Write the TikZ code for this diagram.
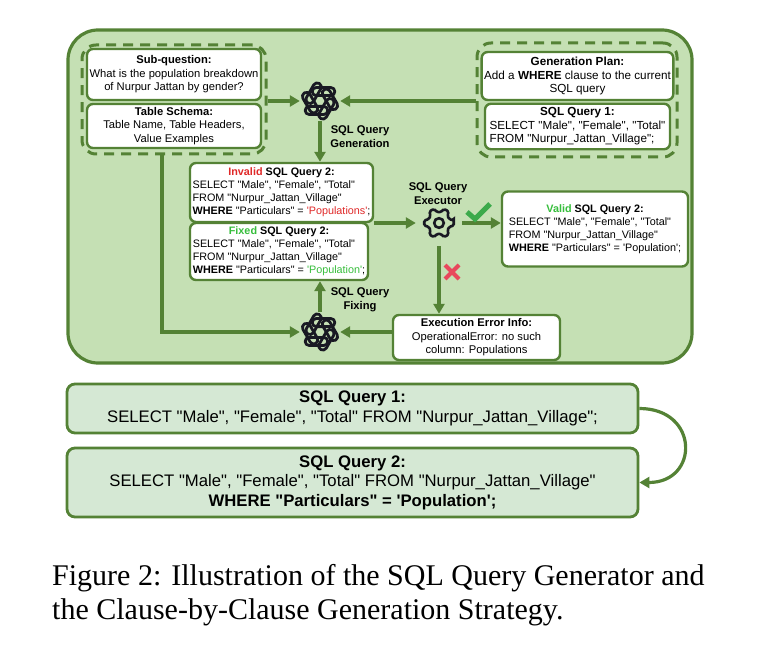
\documentclass[tikz,border=0pt]{standalone}
\usepackage{fontspec}
\setmainfont{Liberation Sans}[Ligatures=TeXOff]
\newfontfamily\capfont{Liberation Serif}
\usetikzlibrary{arrows.meta,calc}
\definecolor{dkgreen}{RGB}{84,130,53}
\definecolor{panelgreen}{RGB}{197,224,180}
\definecolor{qgreen}{RGB}{213,232,212}
\definecolor{errred}{RGB}{224,40,40}
\definecolor{okgreen}{RGB}{55,190,60}
\definecolor{markgreen}{RGB}{60,170,75}
\definecolor{markred}{RGB}{232,72,92}
\definecolor{iconcol}{RGB}{25,25,35}
\def\sq{\textquotesingle}
\def\boxfont{\fontsize{11.2}{13.5}\selectfont}
\def\planfont{\fontsize{11.7}{13.5}\selectfont}
\def\codefont{\fontsize{10.8}{13}\selectfont}
\def\bigqfont{\fontsize{16.7}{19.5}\selectfont}
\def\gptlogo(#1,#2,#3){
  \node[minimum size=40pt, inner sep=0pt] (#3) at (#1,#2) {};
  \foreach \k in {0,60,...,300}
    \draw[logoline, shift={(#1,#2)}, scale=1.08, rotate=\k] (-10,5) -- (3.5,5) arc (-90:90:3.75) -- (-10,12.5) arc (90:270:3.75) -- cycle;
}
\def\gearicon(#1,#2,#3){
  \node[minimum size=46pt, inner sep=0pt] (#3) at (#1,#2) {};
  \draw[gearline, shift={(#1,#2)}] (-10:15) \foreach \a in {0,60,...,300} { -- ({\a+10}:15) -- ({\a+20}:11) -- ({\a+40}:11) -- ({\a+50}:15) } -- cycle;
  \draw[gearline, shift={(#1,#2)}] (0,0) circle (4.8);
}
\begin{document}
\begin{tikzpicture}[x=1pt, y=-1pt,
  panel/.style={draw=dkgreen, line width=3.2pt, fill=panelgreen, rounded corners=30pt, inner sep=0pt},
  grp/.style={draw=dkgreen, line width=3pt, dash pattern=on 10pt off 7pt, rounded corners=14pt, inner sep=0pt},
  wbox/.style={draw=dkgreen, line width=2.4pt, fill=white, rounded corners=6pt, inner sep=2.5pt, align=center, font=\boxfont},
  qbox/.style={draw=dkgreen, line width=2.8pt, fill=qgreen, rounded corners=8pt, inner sep=3pt, align=center, font=\bigqfont, minimum width=571pt},
  arr/.style={draw=dkgreen, line width=3.2pt, -{Triangle[length=10pt,width=11pt]}},
  lbl/.style={font=\bfseries\fontsize{11.2}{14}\selectfont, align=center, inner sep=0pt},
  logoline/.style={draw=iconcol, line width=2.8pt, line join=round},
  gearline/.style={draw=iconcol, line width=2.6pt, rounded corners=1.5pt},
  okmark/.style={draw=markgreen, line width=5pt},
  badmark/.style={draw=markred, line width=4pt}]
\fill[white] (0,0) rectangle (760,660);
\useasboundingbox (0,0) rectangle (760,660);
\node[panel, minimum width=624pt, minimum height=333pt] (panel) at (380,196.5) {};
\node[grp, minimum width=184pt, minimum height=109pt] (lgroup) at (174,99.5) {};
\node[grp, minimum width=200pt, minimum height=114pt] (rgroup) at (577,100) {};
\node[wbox, minimum width=174pt, minimum height=51pt] (subq) at (174,74.5) {\textbf{Sub-question:}\\What is the population breakdown\\of Nurpur Jattan by gender?};
\node[wbox, minimum width=174pt, minimum height=44pt] (schema) at (174,126) {\textbf{Table Schema:}\\Table Name, Table Headers,\\Value Examples};
\node[wbox, font=\planfont, minimum width=185pt, minimum height=48pt] (plan) at (577.5,76) {\textbf{Generation Plan:}\\Add a \textbf{WHERE} clause to the current\\SQL query};
\node[wbox, font=\planfont, minimum width=185pt, minimum height=43pt] (sqlone) at (577.5,126.5) {\begin{tabular}{@{}l@{}}\multicolumn{1}{@{}c@{}}{\textbf{SQL Query 1:}}\\SELECT "Male", "Female", "Total"\\FROM "Nurpur\_Jattan\_Village";\end{tabular}};
\gptlogo(320,101,gen)
\node[lbl] (genlbl) at (360,137) {SQL Query\\Generation};
\node[wbox, font=\codefont, minimum width=183pt, minimum height=59pt] (invalid) at (281.5,192.5) {\begin{tabular}{@{}l@{}}\multicolumn{1}{@{}c@{}}{\textbf{\textcolor{errred}{Invalid} SQL Query 2:}}\\SELECT "Male", "Female", "Total"\\FROM "Nurpur\_Jattan\_Village"\\\textbf{WHERE} "Particulars" = \textcolor{errred}{\sq Populations\sq};\end{tabular}};
\node[wbox, font=\codefont, minimum width=178pt, minimum height=53pt] (fixed) at (279,251.5) {\begin{tabular}{@{}l@{}}\multicolumn{1}{@{}c@{}}{\textbf{\textcolor{okgreen}{Fixed} SQL Query 2:}}\\SELECT "Male", "Female", "Total"\\FROM "Nurpur\_Jattan\_Village"\\\textbf{WHERE} "Particulars" = \textcolor{okgreen}{\sq Population\sq};\end{tabular}};
\gearicon(439,223,exec)
\node[lbl] (execlbl) at (438,194) {SQL Query\\Executor};
\node[wbox, font=\codefont, minimum width=186pt, minimum height=75pt] (valid) at (595,229) {\begin{tabular}{@{}l@{}}\multicolumn{1}{@{}c@{}}{\textbf{\textcolor{okgreen}{Valid} SQL Query 2:}}\\SELECT "Male", "Female", "Total"\\FROM "Nurpur\_Jattan\_Village"\\\textbf{WHERE} "Particulars" = \sq Population\sq;\end{tabular}};
\node[wbox, minimum width=167pt, minimum height=45pt] (err) at (476.5,337.5) {\textbf{Execution Error Info:}\\OperationalError: no such\\column: Populations};
\gptlogo(320,332,fix)
\node[lbl] (fixlbl) at (360,300) {SQL Query\\Fixing};
\draw[arr] (lgroup.east |- gen) -- (gen.west);
\draw[arr] (rgroup.west |- gen) -- (gen.east);
\draw[arr] (gen.south) -- (gen |- invalid.north);
\draw[arr] (invalid.south east |- exec) -- (exec.west);
\draw[arr] (exec.east) -- (exec -| valid.west);
\draw[arr] (exec.south) -- (exec |- err.north);
\draw[arr] (err.west |- fix) -- (fix.east);
\draw[arr] ([xshift=-12pt]lgroup.south) |- (fix.west);
\draw[arr] (fix.north) -- (fix |- fixed.south);
\draw[okmark] (467,212) -- (475,219) -- (490,204);
\draw[badmark] (445,265) -- (459,279) (459,265) -- (445,279);
\node[qbox, minimum height=49pt] (qone) at (352.5,408.5) {\textbf{SQL Query 1:}\\SELECT "Male", "Female", "Total" FROM "Nurpur\_Jattan\_Village";};
\node[qbox, minimum height=69pt] (qtwo) at (352.5,482.5) {\textbf{SQL Query 2:}\\SELECT "Male", "Female", "Total" FROM "Nurpur\_Jattan\_Village"\\\textbf{WHERE "Particulars" = \sq Population\sq;}};
\draw[arr] (qone.east) .. controls +(60,0) and +(60,0) .. (qtwo.east);
\node[anchor=base west, inner sep=0pt, font=\capfont\fontsize{30}{34}\selectfont] (capone) at (52,585) {Figure 2: Illustration of the SQL Query Generator and};
\node[anchor=base west, inner sep=0pt, font=\capfont\fontsize{30}{34}\selectfont] (captwo) at (52,619) {the Clause-by-Clause Generation Strategy.};
\end{tikzpicture}
\end{document}
